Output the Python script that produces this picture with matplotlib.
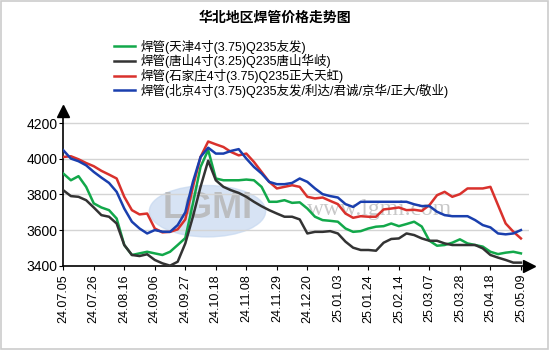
import matplotlib
matplotlib.use("Agg")
import matplotlib.pyplot as plt
from matplotlib.patches import Ellipse, Rectangle

plt.rcParams['font.family'] = ['Liberation Sans', 'Noto Sans CJK SC', 'DejaVu Sans']

# 刻度日期 (每4个数据点一个刻度)
tick_labels = ["24.07.05", "24.07.26", "24.08.16", "24.09.06", "24.09.27", "24.10.18",
               "24.11.08", "24.11.29", "24.12.20", "25.01.03", "25.01.24", "25.02.14",
               "25.03.07", "25.03.28", "25.04.18", "25.05.09"]

names = ["焊管(天津4寸(3.75)Q235友发)",
         "焊管(唐山4寸(3.25)Q235唐山华岐)",
         "焊管(石家庄4寸(3.75)Q235正大天虹)",
         "焊管(北京4寸(3.75)Q235友发/利达/君诚/京华/正大/敬业)"]
colors = ["#12a84a", "#333333", "#d9312c", "#1a3fae"]

tianjin = [3918, 3880, 3903, 3843, 3750, 3727, 3712, 3665, 3516, 3460, 3469, 3478, 3469, 3460, 3478, 3516,
           3555, 3750, 3955, 4050, 3890, 3880, 3880, 3880, 3884, 3880, 3843, 3759, 3759, 3768, 3753, 3756,
           3721, 3675, 3656, 3652, 3647, 3609, 3590, 3594, 3609, 3619, 3622, 3637, 3622, 3634, 3647, 3620,
           3540, 3512, 3516, 3529, 3548, 3525, 3516, 3507, 3478, 3465, 3473, 3478, 3469]
tangshan = [3824, 3791, 3787, 3768, 3727, 3684, 3675, 3637, 3516, 3460, 3454, 3464, 3432, 3413, 3400, 3422,
            3525, 3675, 3843, 3990, 3880, 3843, 3824, 3809, 3787, 3759, 3734, 3712, 3693, 3675, 3675, 3660,
            3581, 3590, 3590, 3594, 3581, 3535, 3501, 3488, 3488, 3484, 3529, 3550, 3553, 3581, 3572, 3553,
            3540, 3540, 3525, 3516, 3516, 3516, 3516, 3497, 3460, 3445, 3432, 3417, 3417]
shijiazhuang = [4011, 4015, 3998, 3977, 3959, 3933, 3912, 3890, 3787, 3712, 3688, 3693, 3609, 3587, 3590, 3604,
                3660, 3843, 4011, 4098, 4082, 4067, 4039, 4020, 4030, 3983, 3927, 3871, 3834, 3843, 3852, 3843,
                3787, 3778, 3783, 3764, 3746, 3693, 3669, 3678, 3675, 3675, 3716, 3721, 3727, 3712, 3714, 3708,
                3740, 3796, 3815, 3787, 3802, 3834, 3834, 3834, 3843, 3740, 3637, 3591, 3553]
beijing = [4049, 4002, 3987, 3964, 3927, 3895, 3865, 3815, 3721, 3647, 3609, 3581, 3600, 3591, 3590, 3628,
           3700, 3871, 4011, 4063, 4030, 4030, 4045, 4055, 4002, 3955, 3918, 3871, 3858, 3858, 3865, 3890,
           3871, 3834, 3802, 3791, 3783, 3746, 3730, 3759, 3759, 3759, 3759, 3759, 3759, 3759, 3745, 3735,
           3735, 3703, 3684, 3678, 3678, 3678, 3656, 3628, 3615, 3581, 3576, 3581, 3600]

series = [tianjin, tangshan, shijiazhuang, beijing]

fig = plt.figure(figsize=(5.5, 3.5), dpi=100)
fig.patches.append(Rectangle((0.002, 0.003), 0.995, 0.994, transform=fig.transFigure,
                             fill=False, edgecolor="#cccccc", lw=1.2))
ax = fig.add_axes([0.115, 0.241, 0.846, 0.432])

# 水印
ax.add_patch(Ellipse((0.31, 0.36), 0.25, 0.34, transform=ax.transAxes,
                     color="#c6d8f0", alpha=0.7, zorder=0))
ax.text(0.31, 0.38, "LGMI", transform=ax.transAxes, ha="center", va="center",
        fontsize=26, color="#b4b4b4", alpha=0.8, fontweight="bold", zorder=0)
ax.text(0.68, 0.37, "www.lgmi.com", transform=ax.transAxes, ha="center", va="center",
        fontsize=17, color="#c8c8c8", family="Liberation Serif", zorder=0)

x = list(range(len(tianjin)))
for vals, name, c in zip(series, names, colors):
    ax.plot(x, vals, color=c, lw=1.8, label=name, solid_joinstyle="round", zorder=3)

ax.set_xlim(0, 61)
ax.set_ylim(3400, 4250)
ax.set_yticks([3400, 3600, 3800, 4000, 4200])
ax.set_xticks(range(0, 61, 4))
ax.set_xticklabels(tick_labels, rotation=90, fontsize=9)
ax.tick_params(axis="y", labelsize=10, length=3, pad=1)
ax.tick_params(axis="x", length=3, pad=3)
ax.grid(axis="y", color="#d4d4d4", lw=1)
ax.set_axisbelow(True)
for s in ["top", "right"]:
    ax.spines[s].set_visible(False)
ax.spines["left"].set_linewidth(1.2)
ax.spines["bottom"].set_linewidth(1.2)
ax.plot(1.0, 0, ">k", ms=8, transform=ax.transAxes, clip_on=False)
ax.plot(0, 1.02, "^k", ms=8, transform=ax.transAxes, clip_on=False)

fig.text(0.5, 0.95, "华北地区焊管价格走势图", ha="center", va="center",
         fontsize=10, fontweight="bold")
fig.legend(loc="upper left", bbox_to_anchor=(0.195, 0.905), frameon=False,
           fontsize=9, handlelength=1.7, handletextpad=0.5, labelspacing=0.05,
           borderpad=0)

fig.savefig("out.png", dpi=100)
